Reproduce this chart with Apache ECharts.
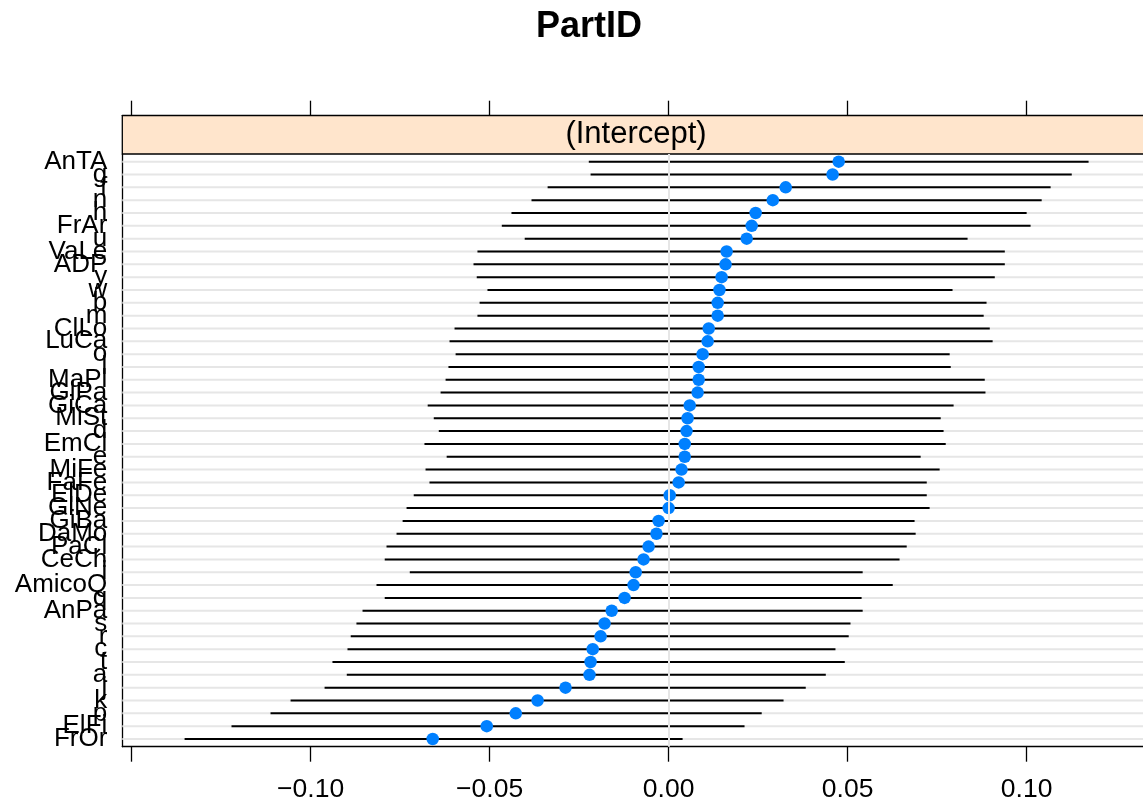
<!DOCTYPE html>
<html>
<head>
<meta charset="utf-8">
<script src="https://cdn.jsdelivr.net/npm/echarts@6/dist/echarts.min.js"></script>
<style>
  html, body { margin: 0; padding: 0; background: #ffffff; }
  #chart { width: 1143px; height: 804px; }
</style>
</head>
<body>
<div id="chart"></div>
<script>
// Random-effect levels of PartID, top to bottom
const levels = ['AnTA','g','f','n','h','FrAr','u','VaLe','ADP','y','w','b','m','ClLo','LuCa','o','l',
  'MaPl','GlPa','GiCa','MiSt','d','EmCl','e','MiFe','FaFe','ElDe','GlNe','GiBa','DaMo','PaCl','CeCh',
  'i','AmicoQ','q','AnPa','s','r','c','t','a','j','k','p','ElFi','FrOr'];

// Conditional modes of the (Intercept) and their interval bounds
const estimate = [0.0475,0.0458,0.0327,0.0291,0.0243,0.0232,0.0218,0.0162,0.0159,0.0148,0.0142,0.0137,
  0.0137,0.0112,0.0109,0.0095,0.0084,0.0084,0.0081,0.0059,0.0053,0.0050,0.0045,0.0045,0.0036,0.0028,
  0.0003,0.0000,-0.0028,-0.0034,-0.0056,-0.0070,-0.0092,-0.0098,-0.0123,-0.0159,-0.0179,-0.0190,
  -0.0212,-0.0218,-0.0221,-0.0288,-0.0366,-0.0427,-0.0508,-0.0659];
const lower = [-0.0223,-0.0218,-0.0338,-0.0383,-0.0439,-0.0466,-0.0402,-0.0534,-0.0545,-0.0536,-0.0506,
  -0.0528,-0.0534,-0.0598,-0.0612,-0.0595,-0.0615,-0.0623,-0.0637,-0.0673,-0.0656,-0.0642,-0.0682,
  -0.0620,-0.0679,-0.0668,-0.0712,-0.0732,-0.0743,-0.0760,-0.0788,-0.0793,-0.0723,-0.0816,-0.0793,
  -0.0855,-0.0872,-0.0888,-0.0897,-0.0939,-0.0899,-0.0961,-0.1056,-0.1112,-0.1221,-0.1352];
const upper = [0.1173,0.1126,0.1067,0.1042,0.1000,0.1011,0.0835,0.0939,0.0939,0.0911,0.0793,0.0888,
  0.0880,0.0897,0.0905,0.0785,0.0788,0.0883,0.0885,0.0796,0.0760,0.0768,0.0774,0.0704,0.0757,0.0721,
  0.0721,0.0729,0.0687,0.0690,0.0665,0.0645,0.0542,0.0626,0.0539,0.0542,0.0508,0.0503,0.0466,0.0492,
  0.0439,0.0383,0.0321,0.0260,0.0212,0.0039];

// Axis ticks and labelled tick values
const xTicks = [-0.15, -0.10, -0.05, 0.00, 0.05, 0.10, 0.15];
const xTickLabels = [-0.10, -0.05, 0.00, 0.05, 0.10];

const rows = levels.map((_, i) => i + 1);
const fmt = v => v.toFixed(2).replace('-', '\u2212');

const FONT = 'Liberation Sans, Arial, Helvetica, sans-serif';
const GRID = { left: 122.3, top: 154, width: 1027.5, height: 592.7 };
const STRIP_H = 38.3;
const X_MIN = -0.1526, X_MAX = 0.1344;

const chart = echarts.init(document.getElementById('chart'), null, { renderer: 'canvas' });

chart.setOption({
  backgroundColor: '#ffffff',
  animation: false,
  textStyle: { fontFamily: FONT },
  grid: Object.assign({ outerBoundsMode: 'none', containLabel: false }, GRID),
  xAxis: [
    {
      type: 'value', position: 'bottom', min: X_MIN, max: X_MAX,
      axisLine: { show: true, onZero: false, lineStyle: { color: '#000', width: 1.3 } },
      axisTick: { show: true, inside: false, length: 15, customValues: xTicks,
                  lineStyle: { color: '#000', width: 1.3 } },
      axisLabel: { show: true, customValues: xTickLabels, formatter: fmt, margin: 29,
                   fontSize: 26.5, color: '#000', fontFamily: FONT },
      splitLine: { show: false }
    },
    {
      type: 'value', position: 'top', offset: STRIP_H, min: X_MIN, max: X_MAX,
      axisLine: { show: true, onZero: false, lineStyle: { color: '#000', width: 1.3 } },
      axisTick: { show: true, inside: false, length: 15, customValues: xTicks,
                  lineStyle: { color: '#000', width: 1.3 } },
      axisLabel: { show: false },
      splitLine: { show: false }
    }
  ],
  yAxis: [
    {
      type: 'value', inverse: true, min: 0.4, max: 46.6, position: 'left',
      axisLine: { show: true, onZero: false, lineStyle: { color: '#000', width: 1.3 } },
      axisTick: { show: false }, axisLabel: { show: false }, splitLine: { show: false }
    },
    {
      type: 'value', inverse: true, min: 0.4, max: 46.6, position: 'right',
      axisLine: { show: true, onZero: false, lineStyle: { color: '#000', width: 1.3 } },
      axisTick: { show: false }, axisLabel: { show: false }, splitLine: { show: false }
    }
  ],
  graphic: [
    {
      type: 'text', x: 589, y: 27, z: 10,
      style: { text: 'PartID', textAlign: 'center', textVerticalAlign: 'middle',
               font: 'bold 36px ' + FONT, fill: '#000' }
    },
    {
      type: 'rect', z: 5,
      shape: { x: GRID.left, y: GRID.top - STRIP_H, width: GRID.width, height: STRIP_H },
      style: { fill: '#ffe5cc', stroke: '#000', lineWidth: 1.3 }
    },
    {
      type: 'text', z: 6,
      x: GRID.left + GRID.width / 2, y: GRID.top - STRIP_H / 2,
      style: { text: '(Intercept)', textAlign: 'center', textVerticalAlign: 'middle',
               font: '31px ' + FONT, fill: '#000' }
    }
  ],
  series: [
    {
      // light reference lines for every level
      type: 'custom', silent: true, z: 1,
      data: rows.map(r => [0, r]),
      encode: { x: 0, y: 1 },
      renderItem: (params, api) => {
        const y = api.coord([0, api.value(1)])[1];
        const cs = params.coordSys;
        return { type: 'line', shape: { x1: cs.x, y1: y, x2: cs.x + cs.width, y2: y },
                 style: { stroke: '#e6e6e6', lineWidth: 2 } };
      },
      markLine: {
        silent: true, symbol: 'none', label: { show: false },
        lineStyle: { color: '#e6e6e6', width: 2, type: 'solid' },
        data: [{ xAxis: 0 }]
      }
    },
    {
      // level names along the left edge, one per row (all drawn, overlapping as they fall)
      type: 'custom', silent: true, z: 4, clip: false,
      data: rows.map(r => [X_MIN, r]),
      encode: { x: 0, y: 1 },
      renderItem: (params, api) => {
        const r = api.value(1);
        const p = api.coord([api.value(0), r]);
        return { type: 'text', x: p[0] - 15, y: p[1],
                 style: { text: levels[r - 1], textAlign: 'right', textVerticalAlign: 'middle',
                          font: '26px ' + FONT, fill: '#000' } };
      }
    },
    {
      // interval segments
      type: 'custom', silent: true, z: 2,
      data: rows.map((r, i) => [lower[i], upper[i], r]),
      encode: { x: [0, 1], y: 2 },
      renderItem: (params, api) => {
        const p1 = api.coord([api.value(0), api.value(2)]);
        const p2 = api.coord([api.value(1), api.value(2)]);
        return { type: 'line', shape: { x1: p1[0], y1: p1[1], x2: p2[0], y2: p2[1] },
                 style: { stroke: '#000', lineWidth: 2 } };
      }
    },
    {
      type: 'scatter', silent: true, z: 3,
      data: rows.map((r, i) => [estimate[i], r]),
      symbol: 'circle', symbolSize: 12.5,
      itemStyle: { color: '#0080ff', opacity: 1 }
    }
  ]
});
</script>
</body>
</html>
